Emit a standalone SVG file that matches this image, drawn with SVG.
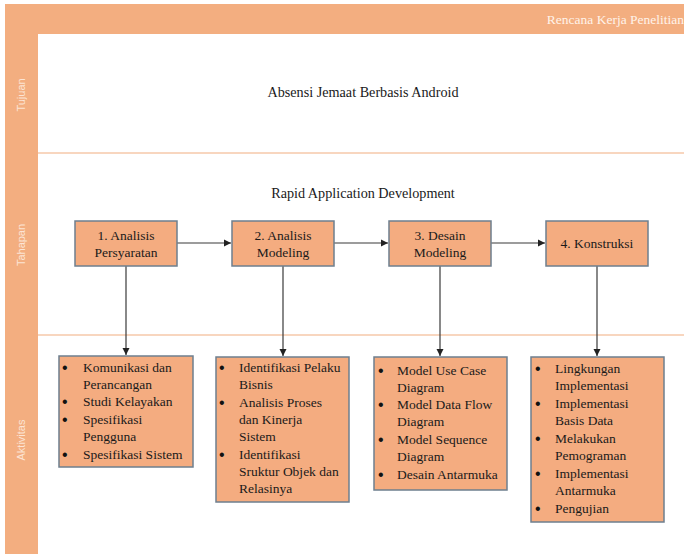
<svg xmlns="http://www.w3.org/2000/svg" width="684" height="554" viewBox="0 0 684 554">
<defs>
<style>
.band{fill:#F3AE80}
.sep{stroke:#F6C9AA;stroke-width:1.5}
.lane{font-family:"Liberation Sans",Arial,sans-serif;font-size:11px;fill:#FCE4D4;text-anchor:middle}
.t{font-family:'Liberation Serif','Times New Roman','DejaVu Serif',serif;font-size:13.5px;fill:#1a1a1a}
.h{font-size:14.2px}
.c{text-anchor:middle}
.b{font-family:'Liberation Sans',sans-serif;font-size:16px;fill:#111}
.box{fill:#F4AC80;stroke:#6E7F8E;stroke-width:1.5}
.ln{stroke:#3a3a3a;stroke-width:1.2;fill:none}
</style>
<marker id="ah" markerWidth="8" markerHeight="8" refX="7" refY="4" orient="auto" markerUnits="userSpaceOnUse">
<path d="M0,0.5 L7,4 L0,7.5 z" fill="#222"/>
</marker>
</defs>
<rect width="684" height="554" fill="#fff"/>
<g id="pool">
<rect class="band" x="5" y="4" width="679" height="30"/>
<rect class="band" x="5" y="34" width="33" height="520"/>
<line class="sep" x1="38" y1="153" x2="684" y2="153"/>
<line class="sep" x1="38" y1="335" x2="684" y2="335"/>
<text class="t" x="684" y="24" style="fill:#FFF3EA" text-anchor="end">Rencana Kerja Penelitian</text>
<text class="lane" transform="translate(25,95) rotate(-90)">Tujuan</text>
<text class="lane" transform="translate(25,245) rotate(-90)">Tahapan</text>
<text class="lane" transform="translate(25,440) rotate(-90)">Aktivitas</text>
</g>
<g id="tujuan"><text class="t h c" x="363" y="97">Absensi Jemaat Berbasis Android</text></g>
<g id="rad"><text class="t h c" x="363" y="198">Rapid Application Development</text></g>
<g id="connectors">
<line class="ln" x1="177" y1="243" x2="231" y2="243" marker-end="url(#ah)"/>
<line class="ln" x1="334" y1="243" x2="388" y2="243" marker-end="url(#ah)"/>
<line class="ln" x1="491" y1="243" x2="545" y2="243" marker-end="url(#ah)" stroke="#2b4a5a"/>
<line class="ln" x1="126" y1="266" x2="126" y2="355" marker-end="url(#ah)"/>
<line class="ln" x1="283" y1="266" x2="283" y2="356" marker-end="url(#ah)"/>
<line class="ln" x1="440" y1="266" x2="440" y2="356" marker-end="url(#ah)"/>
<line class="ln" x1="597" y1="266" x2="597" y2="356" marker-end="url(#ah)"/>
</g>
<g id="s1"><rect class="box" x="75" y="221" width="102" height="45"/>
<text class="t c" x="126" y="240">1. Analisis</text><text class="t c" x="126" y="257">Persyaratan</text></g>
<g id="s2"><rect class="box" x="232" y="221" width="102" height="45"/>
<text class="t c" x="283" y="240">2. Analisis</text><text class="t c" x="283" y="257">Modeling</text></g>
<g id="s3"><rect class="box" x="389" y="221" width="102" height="45"/>
<text class="t c" x="440" y="240">3. Desain</text><text class="t c" x="440" y="257">Modeling</text></g>
<g id="s4"><rect class="box" x="546" y="221" width="102" height="45"/>
<text class="t c" x="597" y="248">4. Konstruksi</text></g>
<g id="a1"><rect class="box" x="59" y="356" width="134" height="111"/>
<g class="t">
<text class="b" x="62" y="373">•</text><text x="83" y="372">Komunikasi dan</text>
<text x="83" y="389">Perancangan</text>
<text class="b" x="62" y="407">•</text><text x="83" y="406">Studi Kelayakan</text>
<text class="b" x="62" y="425">•</text><text x="83" y="424">Spesifikasi</text>
<text x="83" y="441">Pengguna</text>
<text class="b" x="62" y="460">•</text><text x="83" y="459">Spesifikasi Sistem</text>
</g></g>
<g id="a2"><rect class="box" x="216" y="357" width="133" height="145"/>
<g class="t">
<text class="b" x="219" y="373">•</text><text x="239" y="372">Identifikasi Pelaku</text>
<text x="239" y="389">Bisnis</text>
<text class="b" x="219" y="408">•</text><text x="239" y="407">Analisis Proses</text>
<text x="239" y="424">dan Kinerja</text>
<text x="239" y="441">Sistem</text>
<text class="b" x="219" y="460">•</text><text x="239" y="459">Identifikasi</text>
<text x="239" y="476">Sruktur Objek dan</text>
<text x="239" y="493">Relasinya</text>
</g></g>
<g id="a3"><rect class="box" x="374" y="357" width="133" height="133"/>
<g class="t">
<text class="b" x="378" y="376">•</text><text x="397" y="375">Model Use Case</text>
<text x="397" y="392">Diagram</text>
<text class="b" x="378" y="410">•</text><text x="397" y="409">Model Data Flow</text>
<text x="397" y="426">Diagram</text>
<text class="b" x="378" y="445">•</text><text x="397" y="444">Model Sequence</text>
<text x="397" y="461">Diagram</text>
<text class="b" x="378" y="480">•</text><text x="397" y="479">Desain Antarmuka</text>
</g></g>
<g id="a4"><rect class="box" x="531" y="357" width="133" height="165"/>
<g class="t">
<text class="b" x="535" y="374">•</text><text x="555" y="373">Lingkungan</text>
<text x="555" y="390">Implementasi</text>
<text class="b" x="535" y="409">•</text><text x="555" y="408">Implementasi</text>
<text x="555" y="425">Basis Data</text>
<text class="b" x="535" y="444">•</text><text x="555" y="443">Melakukan</text>
<text x="555" y="460">Pemograman</text>
<text class="b" x="535" y="479">•</text><text x="555" y="478">Implementasi</text>
<text x="555" y="495">Antarmuka</text>
<text class="b" x="535" y="514">•</text><text x="555" y="513">Pengujian</text>
</g></g>
</svg>
